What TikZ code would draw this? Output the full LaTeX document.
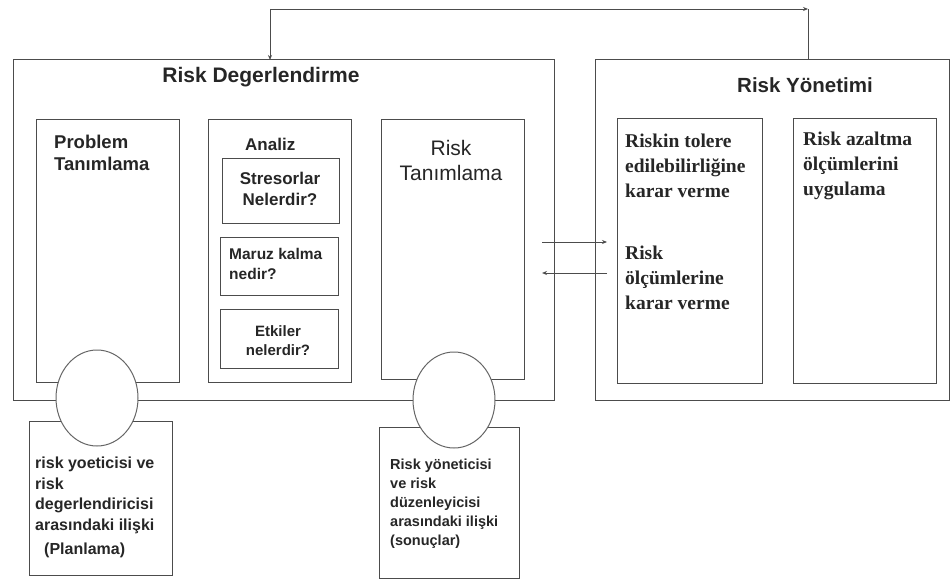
\documentclass[tikz,border=0pt]{standalone}
\usepackage{fontspec}
\setmainfont{Liberation Serif}
\setsansfont{Liberation Sans}
\usetikzlibrary{arrows.meta,calc,shapes.geometric}

\tikzset{
  frame/.style={draw=black!70,line width=1pt,inner sep=0pt,outer sep=0pt,anchor=north west},
  bubble/.style={ellipse,draw=black!60,line width=1pt,fill=white,minimum width=82pt,minimum height=96pt,inner sep=0pt},
  head/.style={font=\sffamily\bfseries\fontsize{21}{24}\selectfont,text=black!85,inner sep=0pt,anchor=north},
  sanstxt/.style={font=\sffamily\bfseries\fontsize{16}{20.5}\selectfont,text=black!85,inner sep=0pt,align=left,anchor=north west},
  seriftxt/.style={font=\rmfamily\bfseries\fontsize{19.5}{25}\selectfont,text=black!85,inner sep=0pt,align=left,anchor=north west},
  link/.style={draw=black!70,line width=0.9pt,-{Stealth[length=5pt,width=4pt]}}
}

\begin{document}
\begin{tikzpicture}[x=1pt,y=-1pt]
  \useasboundingbox (0,0) rectangle (952,580);
  % Risk Degerlendirme block
  \node[frame,minimum width=541pt,minimum height=340pt] (degr) at (13,60) {};
  \node[head] (degrT) at (261,67) {Risk Degerlendirme};
  \node[frame,minimum width=143pt,minimum height=262pt] (prob) at (36,120) {};
  \node[frame,minimum width=143pt,minimum height=262pt] (anlz) at (208,120) {};
  \node[frame,minimum width=143pt,minimum height=259pt] (rtan) at (381,120) {};
  \node[frame,minimum width=117pt,minimum height=64pt] (stres) at (222,159) {};
  \node[frame,minimum width=118pt,minimum height=58pt] (maruz) at (220,237) {};
  \node[frame,minimum width=118pt,minimum height=59pt] (etki) at (220,309) {};
  \node[sanstxt,font=\sffamily\bfseries\fontsize{18.5}{22}\selectfont] (probT) at (54,135) {Problem\\Tanımlama};
  \node[sanstxt,font=\sffamily\bfseries\fontsize{17}{20}\selectfont] (anlzT) at (245,138) {Analiz};
  \node[sanstxt,font=\sffamily\bfseries\fontsize{17}{21}\selectfont,align=center,anchor=north] (stresT) at (280,172) {Stresorlar\\Nelerdir?};
  \node[sanstxt,font=\sffamily\bfseries\fontsize{15.5}{20}\selectfont] (maruzT) at (229,248) {Maruz kalma\\nedir?};
  \node[sanstxt,font=\sffamily\bfseries\fontsize{15}{19}\selectfont,align=center,anchor=north] (etkiT) at (278,325) {Etkiler\\nelerdir?};
  \node[head,font=\sffamily\fontsize{21}{25}\selectfont,align=center] (rtanT) at (451,140) {Risk\\Tanımlama};
  % Risk Yonetimi block
  \node[frame,minimum width=354pt,minimum height=340pt] (ryon) at (595,60) {};
  \node[head,font=\sffamily\bfseries\fontsize{20.5}{24}\selectfont] (ryonT) at (805,77) {Risk Yönetimi};
  \node[frame,minimum width=145pt,minimum height=264pt] (tol) at (617,119) {};
  \node[frame,minimum width=143pt,minimum height=264pt] (azlt) at (793,119) {};
  \node[seriftxt] (tolT) at (625,134) {Riskin tolere\\edilebilirliğine\\karar verme};
  \node[seriftxt] (olcT) at (625,246) {Risk\\ölçümlerine\\karar verme};
  \node[seriftxt] (azltT) at (803,132) {Risk azaltma\\ölçümlerini\\uygulama};
  % notes below
  \node[frame,minimum width=143pt,minimum height=154pt] (lnote) at (29,421) {};
  \node[frame,minimum width=140pt,minimum height=151pt] (rnote) at (379,427) {};
  \node[bubble] (lbub) at (97,398) {};
  \node[bubble] (rbub) at (454,400) {};
  \node[sanstxt] (lnoteT) at (35,457) {risk yoeticisi ve\\risk\\degerlendiricisi\\arasındaki ilişki\\[4pt]\hspace*{9pt}(Planlama)};
  \node[sanstxt,font=\sffamily\bfseries\fontsize{14.5}{19}\selectfont] (rnoteT) at (390,459) {Risk yöneticisi\\ve risk\\düzenleyicisi\\arasındaki ilişki\\(sonuçlar)};
  % exchange arrows
  \coordinate (exA) at (542,242);
  \coordinate (exB) at (607,273);
  \draw[link] (exA) -- (exA -| exB);
  \draw[link] (exB) -- (exB -| exA);
  % feedback loop
  \coordinate (fbR) at (808,9);
  \coordinate (fbL) at (270,9);
  \draw[link,-] (ryon.north -| fbR) -- (fbR);
  \draw[link] (fbL) -- (fbR);
  \draw[link] (fbL) -- (degr.north -| fbL);
\end{tikzpicture}
\end{document}
